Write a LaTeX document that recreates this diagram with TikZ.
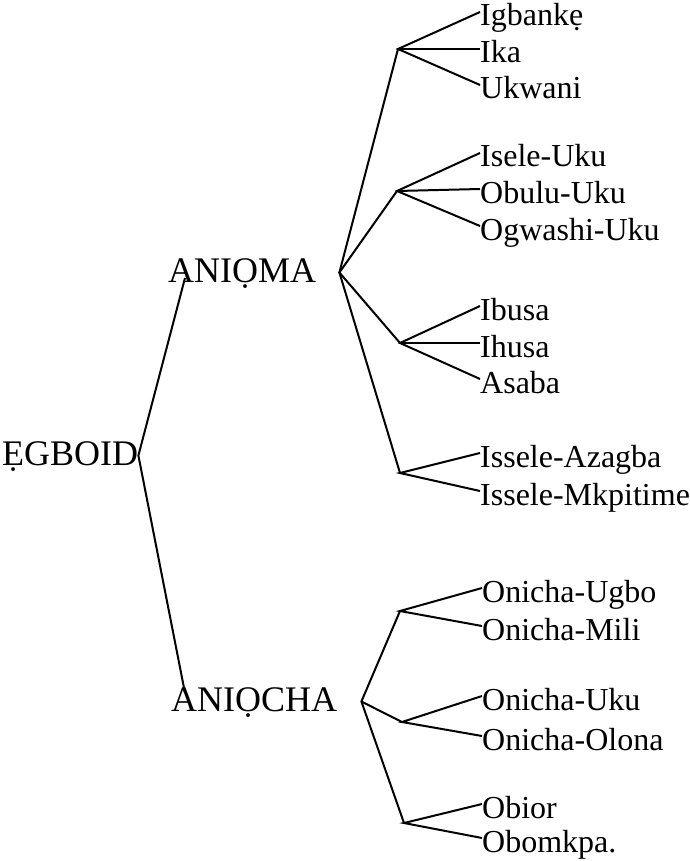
\documentclass[tikz,border=0pt]{standalone}
\usepackage{fontspec}
\setmainfont{Liberation Serif}
\usetikzlibrary{positioning}
\tikzset{group/.style={inner sep=0pt,anchor=base west,font=\fontsize{36}{43}\selectfont,text height=19pt,text depth=0pt},leaf/.style={inner sep=0pt,anchor=base west,font=\fontsize{32}{38}\selectfont,text height=28pt,text depth=0pt},branch/.style={line width=2pt}}

\begin{document}
\begin{tikzpicture}[x=1pt,y=-1pt]
\useasboundingbox (0,0) rectangle (689,861);
\node[group] (egboid) at (2,465) {ẸGBOID};
\node[group] (anioma) at (168,282) {ANIỌMA};
\node[group] (aniocha) at (171,711) {ANIỌCHA};
\coordinate[right=23pt of anioma] (aniomaJ);
\coordinate[right=24pt of aniocha] (aniochaJ);
\draw[branch] ([xshift=17pt,yshift=4pt]anioma.base west)--(egboid.east)--([xshift=14pt,yshift=18pt]aniocha.base west);
% ANIỌMA
\coordinate (ikaJ) at (398,49);
\coordinate (ukuJ) at (397,191);
\coordinate (ibusaJ) at (400,343);
\coordinate (isseleJ) at (400,473);
\node[leaf] (igbanke) at (480,26) {Igbankẹ};
\node[leaf] (ika) at (480,63) {Ika};
\node[leaf] (ukwani) at (480,99) {Ukwani};
\node[leaf] (iseleuku) at (480,167) {Isele-Uku};
\node[leaf] (obuluuku) at (480,203) {Obulu-Uku};
\node[leaf] (ogwashiuku) at (480,240) {Ogwashi-Uku};
\node[leaf] (ibusa) at (480,320) {Ibusa};
\node[leaf] (ihusa) at (480,357) {Ihusa};
\node[leaf] (asaba) at (480,393) {Asaba};
\node[leaf] (azagba) at (480,467) {Issele-Azagba};
\node[leaf] (mkpitime) at (480,505) {Issele-Mkpitime};
\draw[branch] (ikaJ)--(aniomaJ)--(isseleJ);\draw[branch] (ukuJ)--(aniomaJ)--(ibusaJ);
\draw[branch] (igbanke.west)--(ikaJ)--(ukwani.west);\draw[branch] (ikaJ)--(ika.west);
\draw[branch] (iseleuku.west)--(ukuJ)--(ogwashiuku.west);\draw[branch] (ukuJ)--(obuluuku.west);
\draw[branch] (ibusa.west)--(ibusaJ)--(asaba.west);\draw[branch] (ibusaJ)--(ihusa.west);
\draw[branch] (azagba.west)--(isseleJ)--(mkpitime.west);
% ANIỌCHA
\coordinate (ugboJ) at (400,611);
\coordinate (olonaJ) at (402,722);
\coordinate (obiorJ) at (404,823);
\node[leaf] (ugbo) at (482,602) {Onicha-Ugbo};
\node[leaf] (mili) at (482,640) {Onicha-Mili};
\node[leaf] (onichauku) at (482,710) {Onicha-Uku};
\node[leaf] (olona) at (482,750) {Onicha-Olona};
\node[leaf] (obior) at (482,818) {Obior};
\node[leaf] (obomkpa) at (482,852) {Obomkpa.};
\draw[branch] (ugboJ)--(aniochaJ)--(obiorJ);\draw[branch] (aniochaJ)--(olonaJ);
\draw[branch] (ugbo.west)--(ugboJ)--(mili.west);
\draw[branch] (onichauku.west)--(olonaJ)--(olona.west);
\draw[branch] (obior.west)--(obiorJ)--(obomkpa.west);
\end{tikzpicture}
\end{document}
